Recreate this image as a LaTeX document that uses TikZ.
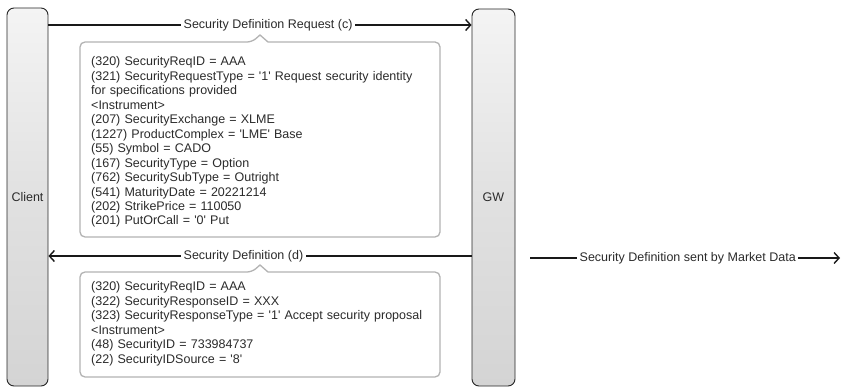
\documentclass[tikz,border=0pt]{standalone}
\usepackage{fontspec}
\setmainfont{Liberation Sans}
\usetikzlibrary{arrows.meta}
\definecolor{txt}{HTML}{2B2B2B}
\definecolor{boxline}{HTML}{B3B3B3}
\definecolor{bartop}{HTML}{F4F4F4}
\definecolor{barbot}{HTML}{D4D4D4}
\newcommand{\q}{\textquotesingle}
\begin{document}
\begin{tikzpicture}[x=1pt,y=-1pt,
  lifebar/.style={draw=black!85, line width=0.9pt, rounded corners=7pt,
    top color=bartop, bottom color=barbot, middle color=barbot!60!bartop,
    text=txt, font=\fontsize{12.5}{14.5}\selectfont, inner sep=0pt},
  msg/.style={line width=1.4pt, draw=black!90,
    -{Straight Barb[length=5pt,width=11pt,line width=1.4pt]}},
  msglabel/.style={fill=white, text=txt, inner xsep=2.5pt, inner ysep=1pt,
    font=\fontsize{12.5}{14.5}\selectfont, anchor=west},
  callout/.style={draw=boxline, line width=1.3pt, fill=white},
  fields/.style={text=txt, font=\fontsize{12.5}{14.45}\selectfont, align=left,
    text width=345pt, inner sep=0pt, anchor=base west}
]
\useasboundingbox (0,0) rectangle (841,387);
\fill[white] (0,0) rectangle (841,387);

% lifelines
\node[lifebar, minimum width=41pt, minimum height=378pt] (client) at (27.5,197) {Client};
\node[lifebar, minimum width=43pt, minimum height=377pt] (gw) at (493.5,197.5) {GW};

% request message
\draw[msg] (client.east |- 0,25) -- (gw.west |- 0,25);
\node[msglabel] (reqlabel) at (181,25) {Security Definition Request (c)};

% request callout
\draw[callout, rounded corners=5pt] (80,42) -- (252,42) [sharp corners] -- (260,35) -- (268,42) [rounded corners=5pt] -- (440,42) -- (440,237) -- (80,237) -- cycle;
\node[fields] (reqfields) at (91,66) {(320) SecurityReqID = AAA\\
(321) SecurityRequestType = \q1\q{} Request security identity\\
for specifications provided\\
<Instrument>\\
(207) SecurityExchange = XLME\\
(1227) ProductComplex = \q LME\q{} Base\\
(55) Symbol = CADO\\
(167) SecurityType = Option\\
(762) SecuritySubType = Outright\\
(541) MaturityDate = 20221214\\
(202) StrikePrice = 110050\\
(201) PutOrCall = \q0\q{} Put};

% response message
\draw[msg] (gw.west |- 0,256) -- (client.east |- 0,256);
\node[msglabel] (resplabel) at (181,256) {Security Definition (d)};

% response callout
\draw[callout, rounded corners=5pt] (80,272) -- (252,272) [sharp corners] -- (260,265) -- (268,272) [rounded corners=5pt] -- (440,272) -- (440,377) -- (80,377) -- cycle;
\node[fields] (respfields) at (91,291) {(320) SecurityReqID = AAA\\
(322) SecurityResponseID = XXX\\
(323) SecurityResponseType = \q1\q{} Accept security proposal\\
<Instrument>\\
(48) SecurityID = 733984737\\
(22) SecurityIDSource = \q8\q};

% market data
\coordinate (mdstart) at (530,258);
\coordinate (mdend) at (840,258);
\draw[msg] (mdstart) -- (mdend);
\node[msglabel] (mdlabel) at (577,258) {Security Definition sent by Market Data};
\end{tikzpicture}
\end{document}
